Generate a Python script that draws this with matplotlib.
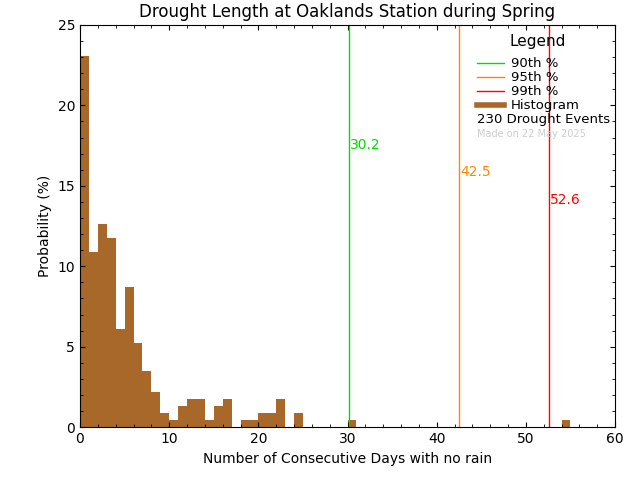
import matplotlib
matplotlib.use("Agg")
import matplotlib.pyplot as plt
import numpy as np

bin_starts = list(range(25)) + [30, 54]
counts = [53, 25, 29, 27, 14, 20, 12, 8, 5, 2, 1, 3, 4, 4, 1, 3, 4, 0, 1, 1, 2, 2, 4, 0, 2, 1, 1]
total_events = 230
p90, p95, p99 = 30.2, 42.5, 52.6
brown = "#a8682a"

probs = np.array(counts) / total_events * 100

fig = plt.figure(figsize=(6.4, 4.8), dpi=100)
ax = fig.add_axes([0.125, 0.11, 0.836, 0.838])
ax.bar(bin_starts, probs, width=1.0, align="edge", color=brown, linewidth=0)
ax.axvline(p90, color="#00dd00", lw=1)
ax.axvline(p95, color="#ff8800", lw=1)
ax.axvline(p99, color="#ff0000", lw=1)
ax.text(p90 + 0.1, 17.3, f"{p90}", color="#00dd00", fontsize=10)
ax.text(p95 + 0.1, 15.6, f"{p95}", color="#ff8800", fontsize=10)
ax.text(p99 + 0.1, 13.9, f"{p99}", color="#ff0000", fontsize=10)
ax.set_xlim(0, 60)
ax.set_ylim(0, 25)
ax.set_xticks(range(0, 61, 10))
ax.set_yticks(range(0, 26, 5))
ax.set_xticks(range(0, 61, 2), minor=True)
ax.set_yticks(np.arange(0, 25.1, 1), minor=True)
ax.tick_params(which="both", direction="in", top=True, right=True)
ax.set_xlabel("Number of Consecutive Days with no rain")
ax.set_ylabel("Probability (%)")
ax.set_title("Drought Length at Oaklands Station during Spring")

lx0, lx1, tx = 0.742, 0.792, 0.805
ax.text(0.855, 0.96, "Legend", transform=ax.transAxes, ha="center", va="center", fontsize=11)
for y, c, lab, lw in [(0.905, "#00dd00", "90th %", 1), (0.87, "#ff8800", "95th %", 1),
                      (0.835, "#ff0000", "99th %", 1), (0.8, brown, "Histogram", 4)]:
    ax.plot([lx0, lx1], [y, y], transform=ax.transAxes, color=c, lw=lw)
    ax.text(tx, y, lab, transform=ax.transAxes, va="center", fontsize=9.5)
ax.text(lx0, 0.765, f"{total_events} Drought Events", transform=ax.transAxes, va="center", fontsize=9.5)
ax.text(lx0, 0.73, "Made on 22 May 2025", transform=ax.transAxes, va="center", fontsize=7, color="#cccccc")

fig.savefig("out.png", dpi=100)
